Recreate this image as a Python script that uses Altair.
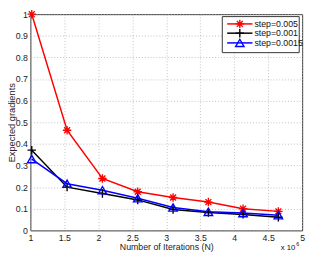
import altair as alt
import pandas as pd

# ---- data ----
iterations = [1.02, 1.54, 2.06, 2.58, 3.10, 3.62, 4.13, 4.65]  # x 10^6
step_0005 = [1.000, 0.463, 0.240, 0.179, 0.152, 0.131, 0.100, 0.088]
step_0001 = [0.371, 0.200, 0.171, 0.141, 0.097, 0.083, 0.074, 0.061]
step_00015 = [0.330, 0.216, 0.186, 0.149, 0.106, 0.086, 0.080, 0.070]
series_names = ["step=0.005", "step=0.001", "step=0.0015"]
series_colors = ["#ff0000", "#000000", "#0000ff"]
x_ticks = [1, 1.5, 2, 2.5, 3, 3.5, 4, 4.5, 5]
y_ticks = [round(i * 0.1, 1) for i in range(11)]

FONT = "Liberation Sans"
STAR = "M-1,0L1,0M0,-1L0,1M-0.7,-0.7L0.7,0.7M-0.7,0.7L0.7,-0.7"
PLUS = "M-1,0L1,0M0,-1L0,1"
series_shapes = [STAR, PLUS, "triangle-up"]

rows = []
for name, vals in zip(series_names, [step_0005, step_0001, step_00015]):
    for xv, yv in zip(iterations, vals):
        rows.append({"N": xv, "g": yv, "series": name})
df = pd.DataFrame(rows)

W, H = 279, 222

xenc = alt.X("N:Q", scale=alt.Scale(domain=[1, 5], nice=False, zero=False),
             axis=alt.Axis(values=x_ticks, format="~g", title="Number of Iterations (N)",
                           titleX=W / 2, titleY=17, titleBaseline="middle", titleAlign="center",
                           labelPadding=3))
yenc = alt.Y("g:Q", scale=alt.Scale(domain=[0, 1], nice=False, zero=False),
             axis=alt.Axis(values=y_ticks, format="~g", title="Expected gradients",
                           titleX=-19, titleY=111, titleBaseline="middle", titleAlign="center",
                           titleAngle=270, titleFontSize=9.5, labelPadding=3))
color = alt.Color("series:N", scale=alt.Scale(domain=series_names, range=series_colors), legend=None)
shape = alt.Shape("series:N", scale=alt.Scale(domain=series_names, range=series_shapes), legend=None)

base = alt.Chart(df)
lines = base.mark_line(strokeWidth=1.5).encode(x=xenc, y=yenc, color=color, detail="series:N")
points = base.mark_point(filled=False, strokeWidth=1.4, opacity=1, size=75).encode(
    x=xenc, y=yenc, color=color, shape=shape)

# ---- manual legend (MATLAB style) ----
one = pd.DataFrame({"a": [0]})
layers = [lines, points]
layers.append(alt.Chart(one).mark_rect(fill="white", stroke="#333", strokeWidth=1).encode(
    x=alt.value(197), x2=alt.value(276), y=alt.value(2.5), y2=alt.value(39.5)))
row_y = [10, 19.5, 29.5]
for name, col, shp, yy in zip(series_names, series_colors, series_shapes, row_y):
    layers.append(alt.Chart(one).mark_rule(color=col, strokeWidth=1.5).encode(
        x=alt.value(202), x2=alt.value(228), y=alt.value(yy)))
    layers.append(alt.Chart(one).mark_point(shape=shp, filled=False, color=col, strokeWidth=1.4,
                                             opacity=1, size=75).encode(
        x=alt.value(215), y=alt.value(yy)))
    layers.append(alt.Chart(one).mark_text(text=name, align="left", baseline="middle", font=FONT,
                                            fontSize=9, color="#111").encode(
        x=alt.value(230), y=alt.value(yy)))

# x 10^6 annotation
layers.append(alt.Chart(one).mark_text(text="x 10", align="left", baseline="middle", font=FONT,
                                        fontSize=8, color="#111").encode(
    x=alt.value(257), y=alt.value(H + 18.5)))
layers.append(alt.Chart(one).mark_text(text="6", align="left", baseline="middle", font=FONT,
                                        fontSize=5.5, color="#111").encode(
    x=alt.value(273), y=alt.value(H + 14)))

chart = alt.layer(*layers).properties(
    width=W, height=H,
    autosize=alt.AutoSizeParams(type="none"),
    padding={"left": 23, "top": 3, "right": 6, "bottom": 25},
).configure_view(stroke="#333", strokeWidth=1).configure_axis(
    domain=False, ticks=False, grid=True, gridDash=[1, 2], gridColor="#b0b0b0", gridWidth=0.8,
    labelFont=FONT, labelFontSize=9, labelColor="#222", labelFlush=False, labelOverlap=False,
    titleFont=FONT, titleFontSize=9, titleFontWeight="normal", titleColor="#222",
)

chart.save("out.html", embed_options={"renderer": "svg", "actions": False})
